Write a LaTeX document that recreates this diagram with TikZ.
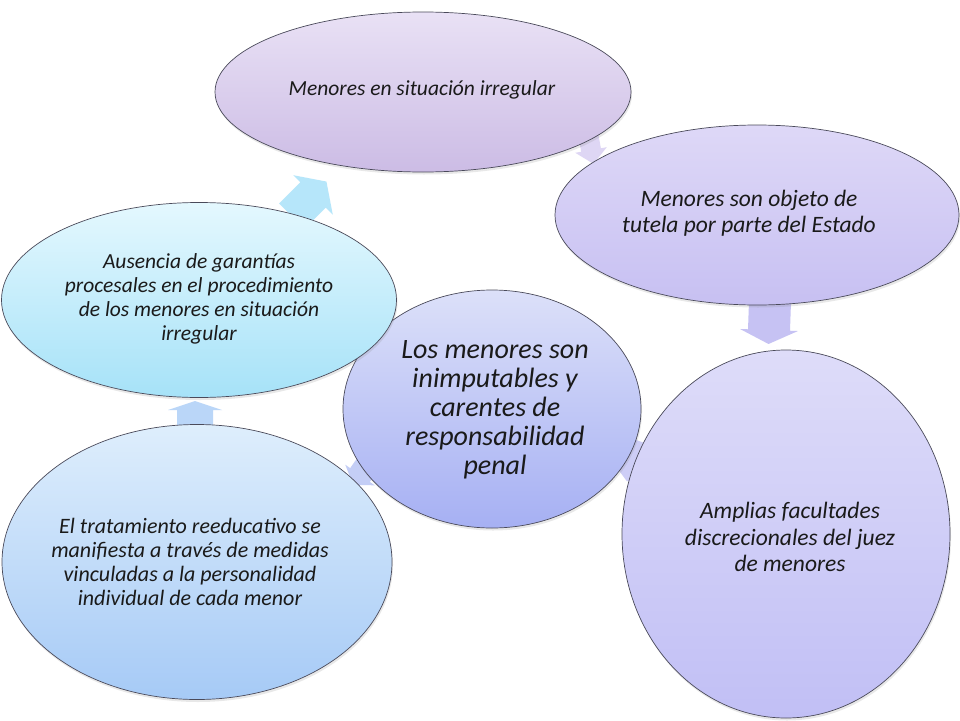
\documentclass[tikz,border=0pt]{standalone}
\usepackage{fontspec}
\setmainfont{Carlito}
\usetikzlibrary{shapes.geometric,shadows}
\definecolor{txtc}{HTML}{1A1A1A}
\definecolor{edgec}{HTML}{4A4A5A}
\definecolor{arA}{RGB}{182,230,250}
\definecolor{arB}{RGB}{222,214,244}
\definecolor{arC}{RGB}{198,194,243}
\definecolor{arD}{RGB}{205,205,246}
\definecolor{arE}{RGB}{196,206,246}
\definecolor{arF}{RGB}{186,214,248}
\tikzset{
  ell/.style={ellipse, draw=edgec, line width=0.7pt, inner sep=0pt,
    drop shadow={opacity=0.18, shadow xshift=1pt, shadow yshift=-2.5pt}},
  lbl/.style={align=center, font=\itshape, text=txtc, inner sep=0pt},
  arrowfill/.style={fill=#1, draw=none}
}
\begin{document}
\begin{tikzpicture}[x=1pt,y=-1pt]
\useasboundingbox (0,0) rectangle (960,720);
\fill[white] (0,0) rectangle (960,720);
% connectors (block arrows) drawn first, partly hidden behind ellipses
\coordinate (a1) at (313,195);
\coordinate (a2) at (591,150);
\coordinate (a3) at (769,330);
\coordinate (a4) at (631,470);
\coordinate (a5) at (360,475);
\coordinate (a6) at (195,410);
\fill[arrowfill=arA, shift={(a1)}, rotate=45]
  (-30,-18) -- (0,-18) -- (0,-28) -- (19,0) -- (0,28) -- (0,18) -- (-30,18) -- cycle;
\fill[arrowfill=arB, shift={(a2)}, rotate=-80]
  (-30,-10) -- (0,-10) -- (0,-16) -- (14,0) -- (0,16) -- (0,10) -- (-30,10) -- cycle;
\fill[arrowfill=arC, shift={(a3)}, rotate=-92]
  (-30,-21) -- (0,-21) -- (0,-29) -- (14,0) -- (0,29) -- (0,21) -- (-30,21) -- cycle;
\fill[arrowfill=arD, shift={(a4)}, rotate=-110]
  (-30,-12) -- (0,-12) -- (0,-18) -- (12,0) -- (0,18) -- (0,12) -- (-30,12) -- cycle;
\fill[arrowfill=arE, shift={(a5)}, rotate=-125]
  (-30,-12) -- (0,-12) -- (0,-18) -- (12,0) -- (0,18) -- (0,12) -- (-30,12) -- cycle;
\fill[arrowfill=arF, shift={(a6)}, rotate=90]
  (-26,-18) -- (0,-18) -- (0,-27) -- (9,0) -- (0,27) -- (0,18) -- (-26,18) -- cycle;
% ellipses
\node[ell, minimum width=416, minimum height=160, top color={rgb,255:red,233;green,225;blue,245}, bottom color={rgb,255:red,204;green,188;blue,229}] (e1) at (423,92) {};
\node[ell, minimum width=404, minimum height=180, top color={rgb,255:red,222;green,216;blue,247}, bottom color={rgb,255:red,199;green,192;blue,242}] (e2) at (757,215) {};
\node[ell, minimum width=328, minimum height=368, top color={rgb,255:red,222;green,220;blue,249}, bottom color={rgb,255:red,193;green,191;blue,245}] (e3) at (786,534) {};
\node[ell, minimum width=298, minimum height=238, top color={rgb,255:red,220;green,224;blue,249}, bottom color={rgb,255:red,166;green,176;blue,243}] (e4) at (492,409) {};
\node[ell, minimum width=390, minimum height=275, top color={rgb,255:red,222;green,238;blue,252}, bottom color={rgb,255:red,166;green,202;blue,246}] (e5) at (197,562) {};
\node[ell, minimum width=395, minimum height=195, top color={rgb,255:red,228;green,248;blue,254}, bottom color={rgb,255:red,166;green,226;blue,248}] (e6) at (199,300) {};
% labels
\node[lbl, font=\itshape\fontsize{21.5}{24}\selectfont] (t1) at (422,90) {Menores en situación irregular};
\node[lbl, font=\itshape\fontsize{23.5}{26}\selectfont] (t2) at (749,213) {Menores son objeto de\\tutela por parte del Estado};
\node[lbl, font=\itshape\fontsize{23.5}{26.5}\selectfont] (t3) at (790,537) {Amplias facultades\\discrecionales del juez\\de menores};
\node[lbl, font=\itshape\fontsize{28}{29}\selectfont] (t4) at (495,410) {Los menores son\\inimputables y\\carentes de\\responsabilidad\\penal};
\node[lbl, font=\itshape\fontsize{22}{24}\selectfont] (t5) at (190,562) {El tratamiento reeducativo se\\manifiesta a través de medidas\\vinculadas a la personalidad\\individual de cada menor};
\node[lbl, font=\itshape\fontsize{21.5}{24}\selectfont] (t6) at (199,299) {Ausencia de garantías\\procesales en el procedimiento\\de los menores en situación\\irregular};
\end{tikzpicture}
\end{document}
